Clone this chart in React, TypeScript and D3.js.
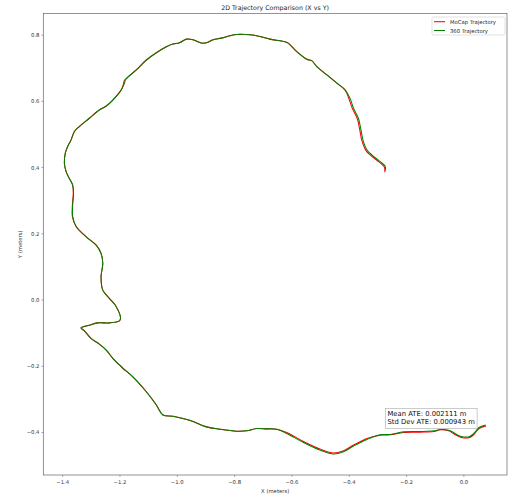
import React from "react";
import * as d3 from "d3";

// 360 camera trajectory (green)
const camX = [
  -0.274, -0.274, -0.292, -0.321, -0.338, -0.352, -0.359, -0.368, -0.385, -0.397,
  -0.414, -0.443, -0.478, -0.513, -0.531, -0.548, -0.583, -0.613, -0.624, -0.642,
  -0.677, -0.712, -0.747, -0.793, -0.817, -0.846, -0.875, -0.898, -0.916, -0.928,
  -0.945, -0.968, -0.992, -1.015, -1.038, -1.073, -1.108, -1.143, -1.173, -1.181,
  -1.184, -1.196, -1.225, -1.248, -1.272, -1.307, -1.342, -1.359, -1.371, -1.383,
  -1.391, -1.394, -1.388, -1.377, -1.365, -1.362, -1.365, -1.365, -1.353, -1.318,
  -1.283, -1.266, -1.26, -1.266, -1.26, -1.237, -1.213, -1.198, -1.202, -1.237,
  -1.278, -1.307, -1.336, -1.324, -1.301, -1.272, -1.248, -1.225, -1.202, -1.19,
  -1.155, -1.108, -1.073, -1.05, -1.015, -0.957, -0.898, -0.852, -0.793, -0.758,
  -0.723, -0.688, -0.653, -0.618, -0.56, -0.502, -0.455, -0.42, -0.385, -0.338,
  -0.292, -0.257, -0.21, -0.152, -0.105, -0.082, -0.053, -0.035, -0.012, 0.018,
  0.035, 0.053, 0.076,
];
const camY = [
  0.391, 0.403, 0.418, 0.438, 0.453, 0.483, 0.514, 0.549, 0.579, 0.609,
  0.634, 0.655, 0.68, 0.705, 0.723, 0.727, 0.75, 0.776, 0.78, 0.783,
  0.788, 0.796, 0.801, 0.802, 0.798, 0.791, 0.786, 0.777, 0.776, 0.78,
  0.786, 0.788, 0.777, 0.773, 0.765, 0.747, 0.725, 0.695, 0.673, 0.665,
  0.655, 0.634, 0.604, 0.586, 0.574, 0.549, 0.524, 0.509, 0.483, 0.463,
  0.443, 0.413, 0.388, 0.368, 0.347, 0.322, 0.287, 0.252, 0.222, 0.191,
  0.166, 0.141, 0.111, 0.07, 0.03, 0.005, -0.02, -0.055, -0.063, -0.069,
  -0.069, -0.076, -0.084, -0.093, -0.116, -0.133, -0.151, -0.176, -0.196, -0.206,
  -0.232, -0.277, -0.317, -0.347, -0.351, -0.363, -0.383, -0.39, -0.396, -0.395,
  -0.388, -0.389, -0.39, -0.403, -0.43, -0.453, -0.465, -0.458, -0.441, -0.421,
  -0.407, -0.406, -0.398, -0.397, -0.395, -0.391, -0.393, -0.401, -0.411, -0.413,
  -0.403, -0.385, -0.377,
];

// MoCap trajectory (red), almost the same, differs by a hair in places
const mocapX = [
  -0.276, -0.277, -0.296, -0.325, -0.342, -0.356, -0.363, -0.372, -0.389, -0.401,
  -0.414, -0.443, -0.478, -0.513, -0.531, -0.548, -0.583, -0.613, -0.624, -0.642,
  -0.677, -0.712, -0.747, -0.793, -0.817, -0.846, -0.875, -0.898, -0.916, -0.928,
  -0.945, -0.968, -0.992, -1.015, -1.038, -1.073, -1.108, -1.143, -1.175, -1.185,
  -1.188, -1.196, -1.225, -1.248, -1.272, -1.307, -1.342, -1.359, -1.371, -1.383,
  -1.391, -1.394, -1.388, -1.377, -1.365, -1.363, -1.366, -1.366, -1.353, -1.318,
  -1.283, -1.266, -1.26, -1.266, -1.26, -1.237, -1.213, -1.198, -1.202, -1.237,
  -1.278, -1.307, -1.336, -1.324, -1.301, -1.272, -1.248, -1.225, -1.202, -1.19,
  -1.155, -1.108, -1.073, -1.05, -1.015, -0.957, -0.898, -0.852, -0.793, -0.758,
  -0.723, -0.688, -0.653, -0.618, -0.56, -0.502, -0.455, -0.42, -0.385, -0.338,
  -0.292, -0.257, -0.21, -0.152, -0.105, -0.082, -0.053, -0.035, -0.012, 0.018,
  0.035, 0.053, 0.077,
];
const mocapY = [
  0.386, 0.401, 0.417, 0.437, 0.452, 0.482, 0.513, 0.548, 0.578, 0.608,
  0.634, 0.655, 0.68, 0.705, 0.723, 0.727, 0.75, 0.776, 0.78, 0.783,
  0.788, 0.796, 0.801, 0.802, 0.798, 0.791, 0.786, 0.777, 0.776, 0.78,
  0.786, 0.788, 0.777, 0.773, 0.765, 0.747, 0.725, 0.695, 0.671, 0.662,
  0.652, 0.634, 0.604, 0.586, 0.574, 0.549, 0.524, 0.509, 0.483, 0.463,
  0.443, 0.413, 0.388, 0.368, 0.347, 0.322, 0.287, 0.252, 0.222, 0.191,
  0.166, 0.141, 0.111, 0.07, 0.03, 0.005, -0.02, -0.055, -0.063, -0.069,
  -0.069, -0.076, -0.084, -0.093, -0.116, -0.133, -0.151, -0.176, -0.196, -0.206,
  -0.232, -0.277, -0.317, -0.347, -0.351, -0.363, -0.383, -0.39, -0.396, -0.395,
  -0.388, -0.389, -0.39, -0.4, -0.427, -0.45, -0.462, -0.455, -0.438, -0.418,
  -0.408, -0.407, -0.4, -0.399, -0.397, -0.392, -0.395, -0.404, -0.414, -0.416,
  -0.406, -0.388, -0.38,
];

const xTicks = [-1.4, -1.2, -1.0, -0.8, -0.6, -0.4, -0.2, 0.0];
const yTicks = [-0.4, -0.2, 0.0, 0.2, 0.4, 0.6, 0.8];
const seriesNames = ["MoCap Trajectory", "360 Trajectory"];
const seriesColors = ["#ff0000", "#008000"];
const statsLines = ["Mean ATE: 0.002111 m", "Std Dev ATE: 0.000943 m"];

const W = 511;
const H = 501;
const margin = { top: 13.5, right: 4, bottom: 26, left: 43.3 };
const font = "DejaVu Sans, sans-serif";

export default function App() {
  const innerW = W - margin.left - margin.right;
  const innerH = H - margin.top - margin.bottom;

  const allX = [...camX, ...mocapX];
  const allY = [...camY, ...mocapY];
  const [x0, x1] = d3.extent(allX) as [number, number];
  const [y0, y1] = d3.extent(allY) as [number, number];
  const px = (x1 - x0) * 0.05;
  const py = (y1 - y0) * 0.05;

  const x = d3.scaleLinear().domain([x0 - px, x1 + px]).range([0, innerW]);
  const y = d3.scaleLinear().domain([y0 - py, y1 + py]).range([innerH, 0]);
  const fmt = d3.format(".1f");

  const line = d3
    .line<[number, number]>()
    .x((d) => x(d[0]))
    .y((d) => y(d[1]))
    .curve(d3.curveCatmullRom);

  const series = [
    mocapX.map((v, i) => [v, mocapY[i]] as [number, number]),
    camX.map((v, i) => [v, camY[i]] as [number, number]),
  ];

  const legW = 73;
  const legX = innerW - legW - 2;
  const legY = 3.5;

  const boxX = innerW * 0.738;
  const boxY = innerH - innerH * 0.101 - 20;

  return (
    <svg
      width={W}
      height={H}
      style={{ position: "absolute", left: 0, top: 0, background: "#fff" }}
      fontFamily={font}
    >
      <text x={margin.left + innerW / 2} y={9.5} fontSize={6.3} textAnchor="middle" fill="#222">
        2D Trajectory Comparison (X vs Y)
      </text>
      <g transform={`translate(${margin.left},${margin.top})`}>
        {series.map((pts, i) => (
          <path
            key={i}
            d={line(pts) || ""}
            fill="none"
            stroke={seriesColors[i]}
            strokeWidth={1.05}
            strokeLinejoin="round"
          />
        ))}

        <rect x={0} y={0} width={innerW} height={innerH} fill="none" stroke="#666" strokeWidth={0.7} />

        {xTicks.map((t) => (
          <g key={t} transform={`translate(${x(t)},${innerH})`}>
            <line y2={1.8} stroke="#666" strokeWidth={0.6} />
            <text y={9} fontSize={5.3} textAnchor="middle" fill="#333">
              {fmt(t)}
            </text>
          </g>
        ))}
        {yTicks.map((t) => (
          <g key={t} transform={`translate(0,${y(t)})`}>
            <line x2={-1.8} stroke="#666" strokeWidth={0.6} />
            <text x={-3.8} fontSize={5.3} textAnchor="end" dominantBaseline="central" fill="#333">
              {fmt(t)}
            </text>
          </g>
        ))}

        <g transform={`translate(${legX},${legY})`}>
          <rect width={legW} height={18} rx={1.5} fill="#fff" fillOpacity={0.8} stroke="#ccc" strokeWidth={0.6} />
          {seriesNames.map((name, i) => (
            <g key={name} transform={`translate(0,${4.7 + i * 8.8})`}>
              <line x1={2} x2={13} stroke={seriesColors[i]} strokeWidth={1.05} />
              <text x={18} fontSize={5.3} dominantBaseline="central" fill="#222">
                {name}
              </text>
            </g>
          ))}
        </g>

        <g transform={`translate(${boxX},${boxY})`}>
          <rect width={91.6} height={20} fill="#fff" fillOpacity={0.8} stroke="#aaa" strokeWidth={0.6} />
          {statsLines.map((s, i) => (
            <text key={s} x={2} y={7.4 + i * 8.6} fontSize={6.8} fill="#111">
              {s}
            </text>
          ))}
        </g>
      </g>
      <text x={margin.left + innerW / 2} y={492.5} fontSize={5.3} textAnchor="middle" fill="#333">
        X (meters)
      </text>
      <text
        transform={`translate(22,${margin.top + innerH / 2}) rotate(-90)`}
        fontSize={5.3}
        textAnchor="middle"
        fill="#333"
      >
        Y (meters)
      </text>
    </svg>
  );
}
